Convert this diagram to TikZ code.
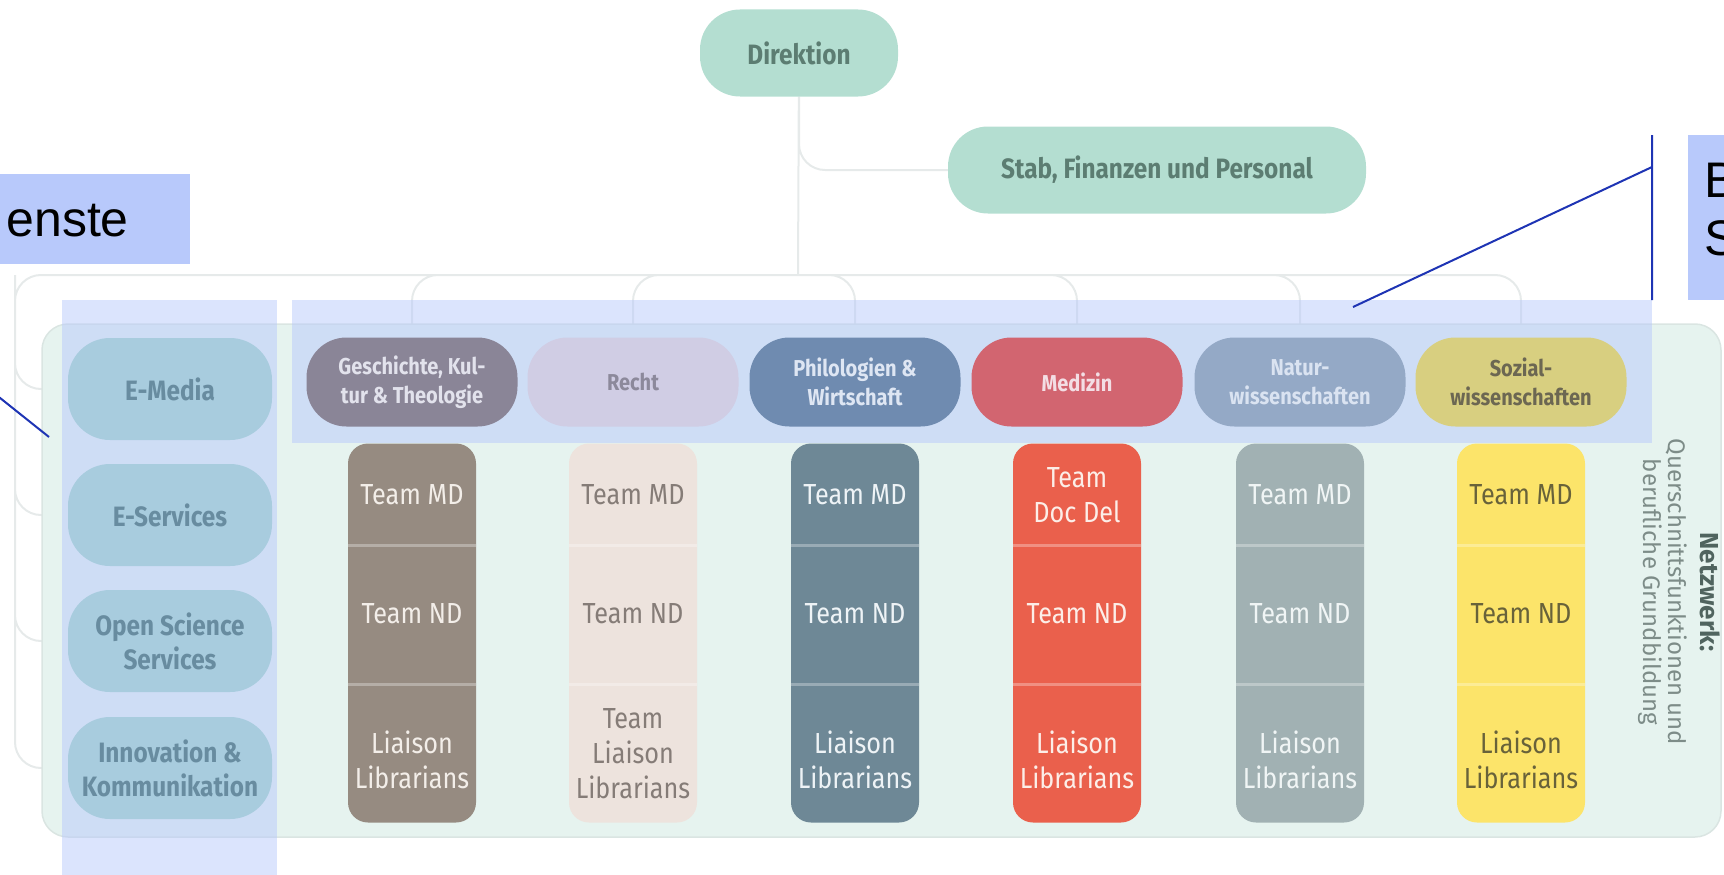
\documentclass[tikz,border=0pt]{standalone}
\usepackage{fontspec}
\setmainfont{Fira Sans}[FakeStretch=0.87]
\newfontfamily\netfont{Fira Sans}
\newfontfamily\callfont{Liberation Sans}
\pgfdeclarelayer{background}
\pgfsetlayers{background,main}
\definecolor{mint}{RGB}{180,222,209}
\definecolor{minttx}{RGB}{92,125,114}
\definecolor{linegray}{RGB}{230,234,234}
\definecolor{panelfill}{RGB}{230,243,239}
\definecolor{panelrim}{RGB}{218,229,226}
\definecolor{callblue}{RGB}{184,201,251}
\definecolor{callline}{RGB}{30,52,180}
\definecolor{svcfill}{RGB}{168,204,222}
\definecolor{svctx}{RGB}{104,140,160}
\definecolor{fa}{RGB}{138,133,151}\definecolor{fatx}{RGB}{226,226,236}
\definecolor{fb}{RGB}{208,205,228}\definecolor{fbtx}{RGB}{140,137,155}
\definecolor{fc}{RGB}{111,139,176}\definecolor{fctx}{RGB}{222,230,243}
\definecolor{fd}{RGB}{210,101,112}\definecolor{fdtx}{RGB}{243,222,228}
\definecolor{fe}{RGB}{148,169,198}\definecolor{fetx}{RGB}{218,227,241}
\definecolor{ff}{RGB}{216,207,128}\definecolor{fftx}{RGB}{108,103,82}
\definecolor{ta}{RGB}{150,139,129}\definecolor{tatx}{RGB}{243,238,233}
\definecolor{tb}{RGB}{237,227,221}\definecolor{tbtx}{RGB}{133,124,119}
\definecolor{tc}{RGB}{110,136,150}\definecolor{tctx}{RGB}{238,243,246}
\definecolor{td}{RGB}{234,96,76}\definecolor{tdtx}{RGB}{252,238,232}
\definecolor{te}{RGB}{161,177,179}\definecolor{tetx}{RGB}{240,245,245}
\definecolor{tf}{RGB}{252,228,106}\definecolor{tftx}{RGB}{104,98,58}
\definecolor{nettx}{RGB}{125,140,136}
\definecolor{netbold}{RGB}{80,100,95}
\begin{document}
\begin{tikzpicture}[x=1pt,y=-1pt,
  conn/.style={draw=linegray,line width=2pt,rounded corners=26pt},
  head/.style={fill=mint,text=minttx,rounded corners=40pt,minimum height=87pt,
    font=\bfseries\fontsize{28}{33}\selectfont},
  svc/.style={fill=svcfill,text=svctx,rounded corners=42pt,minimum width=204pt,
    minimum height=102pt,align=center,font=\bfseries\fontsize{28}{34}\selectfont},
  fac/.style={rounded corners=40pt,minimum width=211pt,minimum height=89pt,
    align=center,font=\bfseries\fontsize{23}{29}\selectfont},
  team/.style={rounded corners=20pt,minimum width=128pt,minimum height=379pt},
  lbl/.style={align=center,font=\fontsize{29}{35}\selectfont},
  sep/.style={draw=white,draw opacity=0.3,line width=3pt},
  ovl/.style={fill=callblue,fill opacity=0.5},
  callbox/.style={fill=callblue,inner sep=0pt},
  calltxt/.style={inner sep=0pt,font=\callfont\fontsize{50}{58}\selectfont},
  callarm/.style={draw=callline,line width=2pt}]
\useasboundingbox (0,0) rectangle (1724,875);
% Leitung
\draw (799,53) node[head,minimum width=198pt](dir){Direktion};
\draw (1157,170) node[head,minimum width=418pt](stab){Stab, Finanzen und Personal};
% Dienste links
\draw (170,389) node[svc](m1){E-Media};
\draw (170,515) node[svc](m2){E-Services};
\draw (170,641) node[svc](m3){Open Science\\Services};
\draw (170,768) node[svc](m4){Innovation \&\\Kommunikation};
% Fachbereiche
\draw (412,382) node[fac,fill=fa,text=fatx](f1){Geschichte, Kul-\\tur \& Theologie};
\draw (633,382) node[fac,fill=fb,text=fbtx](f2){Recht};
\draw (855,382) node[fac,fill=fc,text=fctx](f3){Philologien \&\\Wirtschaft};
\draw (1077,382) node[fac,fill=fd,text=fdtx](f4){Medizin};
\draw (1300,382) node[fac,fill=fe,text=fetx](f5){Natur-\\wissenschaften};
\draw (1521,382) node[fac,fill=ff,text=fftx](f6){Sozial-\\wissenschaften};
% Teams
\draw (412,633) node[team,fill=ta](t1){};
\draw (633,633) node[team,fill=tb](t2){};
\draw (855,633) node[team,fill=tc](t3){};
\draw (1077,633) node[team,fill=td](t4){};
\draw (1300,633) node[team,fill=te](t5){};
\draw (1521,633) node[team,fill=tf](t6){};
\draw[sep] (t1.west |- 0,545) -- (t1.east |- 0,545) (t1.west |- 0,684) -- (t1.east |- 0,684);
\draw[sep] (t2.west |- 0,545) -- (t2.east |- 0,545) (t2.west |- 0,684) -- (t2.east |- 0,684);
\draw[sep] (t3.west |- 0,545) -- (t3.east |- 0,545) (t3.west |- 0,684) -- (t3.east |- 0,684);
\draw[sep] (t4.west |- 0,545) -- (t4.east |- 0,545) (t4.west |- 0,684) -- (t4.east |- 0,684);
\draw[sep] (t5.west |- 0,545) -- (t5.east |- 0,545) (t5.west |- 0,684) -- (t5.east |- 0,684);
\draw[sep] (t6.west |- 0,545) -- (t6.east |- 0,545) (t6.west |- 0,684) -- (t6.east |- 0,684);
\draw (412,495) node[lbl,text=tatx](t1a){Team MD};
\draw (412,614) node[lbl,text=tatx](t1b){Team ND};
\draw (412,760) node[lbl,text=tatx](t1c){Liaison\\Librarians};
\draw (633,495) node[lbl,text=tbtx](t2a){Team MD};
\draw (633,614) node[lbl,text=tbtx](t2b){Team ND};
\draw (633,754) node[lbl,text=tbtx](t2c){Team\\Liaison\\Librarians};
\draw (855,495) node[lbl,text=tctx](t3a){Team MD};
\draw (855,614) node[lbl,text=tctx](t3b){Team ND};
\draw (855,760) node[lbl,text=tctx](t3c){Liaison\\Librarians};
\draw (1077,495) node[lbl,text=tdtx](t4a){Team\\Doc Del};
\draw (1077,614) node[lbl,text=tdtx](t4b){Team ND};
\draw (1077,760) node[lbl,text=tdtx](t4c){Liaison\\Librarians};
\draw (1300,495) node[lbl,text=tetx](t5a){Team MD};
\draw (1300,614) node[lbl,text=tetx](t5b){Team ND};
\draw (1300,760) node[lbl,text=tetx](t5c){Liaison\\Librarians};
\draw (1521,495) node[lbl,text=tftx](t6a){Team MD};
\draw (1521,614) node[lbl,text=tftx](t6b){Team ND};
\draw (1521,760) node[lbl,text=tftx](t6c){Liaison\\Librarians};
\draw (1679,592) node[rotate=-90,align=center,text=nettx,font=\netfont\fontsize{24}{25}\selectfont](netz)
  {{\bfseries\fontsize{26}{30}\selectfont\color{netbold}Netzwerk:}\\[7pt]Querschnittsfunktionen und\\berufliche Grundbildung};
% Linien, Hintergrund und Markierungen
\begin{pgfonlayer}{background}
\coordinate (bus) at (798,275);
\coordinate (lft) at (15,275);
\draw[conn]
  (dir) -- (bus)
  (dir.south) |- (stab)
  (bus) -| (f1) (bus) -| (f2) (bus) -| (f3)
  (bus) -| (f4) (bus) -| (f5) (bus) -| (f6)
  (bus) -- (lft) |- (m4)
  (lft) |- (m1) (lft) |- (m2) (lft) |- (m3)
;
\filldraw[fill=panelfill,draw=panelrim,line width=1.5pt,rounded corners=26pt] (42,324) rectangle (1721,837);
\fill[ovl] (62,300) rectangle (277,875);
\fill[ovl] (292,300) rectangle (1652,443);
\end{pgfonlayer}
% Kommentarfelder
\draw (0,174) node[callbox,anchor=north west,minimum width=190pt,minimum height=90pt](cl){};
\draw (129,236) node[calltxt,anchor=base east](clt){enste};
\draw (1688,135) node[callbox,anchor=north west,minimum width=60pt,minimum height=165pt](cr){};
\draw (1704,197) node[calltxt,anchor=base west](crb){B};
\draw (1704,255) node[calltxt,anchor=base west](crs){S};
\coordinate (crt) at (1652,135);
\coordinate (crm) at (1652,167);
\coordinate (crd) at (1652,300);
\coordinate (crp) at (1353,307);
\coordinate (clo) at (-30,374);
\coordinate (clp) at (49,437);
\draw[callarm] (crt) -- (crd) (crm) -- (crp) (clo) -- (clp);
\end{tikzpicture}
\end{document}
